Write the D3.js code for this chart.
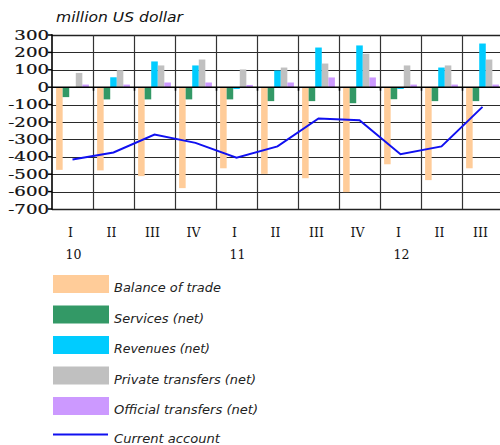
<!DOCTYPE html>
<html><head><meta charset="utf-8">
<script src="https://cdn.jsdelivr.net/npm/d3@7"></script>
<style>body{margin:0;background:#fff;}svg{display:block;}</style>
</head><body>
<svg id="chart" width="500" height="445"></svg>
<script>
const quarters = ["I","II","III","IV","I","II","III","IV","I","II","III"];
const years = ["10","","","","11","","","","12","",""];
const balanceOfTrade = [-475,-478,-511,-580,-466,-498,-523,-603,-443,-534,-466];
const services = [-57,-70,-70,-70,-70,-80,-80,-92,-69,-80,-80];
const revenues = [0,57,148,125,-10,96,228,240,-10,113,251];
const privateTransfers = [82,98,125,159,102,113,136,192,125,125,159];
const officialTransfers = [15,15,27,27,13,27,56,56,15,15,15];
const currentAccount = [-415,-375,-272,-320,-405,-340,-180,-190,-385,-340,-113];
const yTicks = [300,200,100,0,-100,-200,-300,-400,-500,-600,-700];
const seriesNames = ["Balance of trade","Services (net)","Revenues (net)","Private transfers (net)","Official transfers (net)"];
const lineName = "Current account";
const seriesColors = ["#FFCC99","#339966","#00CCFF","#C0C0C0","#CC99FF"];
const lineColor = "#1010F0";
const title = "million US dollar";

(function () {
const svg = d3.select("#chart");
const pLeft = 52, pRight = 503, pTop = 35, pBottom = 209;
const idx = d3.range(quarters.length);
const x = d3.scaleBand().domain(idx).range([pLeft, pRight]).paddingInner(0).paddingOuter(0);
const inner = d3.scaleBand().domain(d3.range(5))
  .range([x.bandwidth()*0.1, x.bandwidth()*0.9]).paddingInner(0).paddingOuter(0);
const y = d3.scaleLinear().domain([-700, 300]).range([pBottom, pTop]);
const seriesData = [balanceOfTrade, services, revenues, privateTransfers, officialTransfers];

// title
svg.append("text").attr("x", 56).attr("y", 22)
  .attr("font-family", "DejaVu Sans").attr("font-style", "italic").attr("font-size", 13.5)
  .attr("fill", "#111").attr("textLength", 127).attr("lengthAdjust", "spacingAndGlyphs")
  .text(title);

// horizontal gridlines
svg.append("g").selectAll("line").data(yTicks).join("line")
  .attr("x1", pLeft).attr("x2", pRight)
  .attr("y1", d => Math.round(y(d)) + 0.5).attr("y2", d => Math.round(y(d)) + 0.5)
  .attr("stroke", d => (d === 300 || d === -700) ? "#222" : "#2a2a2a")
  .attr("stroke-width", d => (d === 300 || d === -700) ? 1.6 : 1);

// vertical category gridlines
svg.append("g").selectAll("line").data(idx.slice(1)).join("line")
  .attr("x1", d => Math.round(x(d)) + 0.5).attr("x2", d => Math.round(x(d)) + 0.5)
  .attr("y1", pTop).attr("y2", pBottom)
  .attr("stroke", "#333").attr("stroke-width", 1.2);

// bars
seriesData.forEach((arr, s) => {
  svg.append("g").selectAll("rect").data(arr).join("rect")
    .attr("x", (d, i) => x(i) + inner(s))
    .attr("width", inner.bandwidth())
    .attr("y", d => Math.min(y(d), y(0)))
    .attr("height", d => Math.abs(y(d) - y(0)))
    .attr("fill", seriesColors[s]);
});

// zero line with ticks
svg.append("line").attr("x1", pLeft).attr("x2", pRight)
  .attr("y1", y(0)).attr("y2", y(0)).attr("stroke", "#000").attr("stroke-width", 1.5);
svg.append("g").selectAll("line").data(idx.slice(1)).join("line")
  .attr("x1", d => Math.round(x(d)) + 0.5).attr("x2", d => Math.round(x(d)) + 0.5)
  .attr("y1", y(0)).attr("y2", y(0) + 3.5).attr("stroke", "#000").attr("stroke-width", 1.5);

// left axis
svg.append("line").attr("x1", pLeft).attr("x2", pLeft).attr("y1", pTop - 0.8).attr("y2", pBottom + 0.8)
  .attr("stroke", "#000").attr("stroke-width", 1.6);
svg.append("g").selectAll("line").data(yTicks).join("line")
  .attr("x1", pLeft - 4).attr("x2", pLeft).attr("y1", d => y(d)).attr("y2", d => y(d))
  .attr("stroke", "#000").attr("stroke-width", 1.5);
svg.append("g").selectAll("g").data(yTicks).join("g")
  .attr("transform", d => `translate(49,${y(d) + 4.6}) scale(1.42,1)`)
  .append("text").attr("text-anchor", "end")
  .attr("font-family", "DejaVu Serif").attr("font-size", 12.8).attr("fill", "#111")
  .attr("stroke", "#111").attr("stroke-width", 0.2)
  .text(d => String(d));

// current account line
const line = d3.line().x((d, i) => x(i) + x.bandwidth() / 2).y(d => y(d));
svg.append("path").datum(currentAccount).attr("d", line)
  .attr("fill", "none").attr("stroke", lineColor).attr("stroke-width", 2);

// x labels
svg.append("g").selectAll("text").data(quarters).join("text")
  .attr("x", (d, i) => x(i) + x.bandwidth() / 2 - 2).attr("y", 237)
  .attr("text-anchor", "middle").attr("font-family", "DejaVu Serif").attr("font-size", 12.5)
  .attr("fill", "#111").text(d => d);
svg.append("g").selectAll("text").data(years).join("text")
  .attr("x", (d, i) => x(i) + x.bandwidth() / 2 + 1).attr("y", 259)
  .attr("text-anchor", "middle").attr("font-family", "DejaVu Serif").attr("font-size", 12.5)
  .attr("fill", "#111").text(d => d);

// legend
const legendWidths = [107, 90, 96, 142, 144];
const lg = svg.append("g");
seriesNames.forEach((name, i) => {
  const cy = 284 + i * 30.5;
  lg.append("rect").attr("x", 53).attr("y", cy - 9).attr("width", 56).attr("height", 18)
    .attr("fill", seriesColors[i]);
  lg.append("text").attr("x", 114).attr("y", cy + 8)
    .attr("font-family", "DejaVu Sans").attr("font-style", "italic").attr("font-size", 13)
    .attr("fill", "#222").attr("textLength", legendWidths[i]).attr("lengthAdjust", "spacingAndGlyphs")
    .text(name);
});
lg.append("line").attr("x1", 53).attr("x2", 108).attr("y1", 434.5).attr("y2", 434.5)
  .attr("stroke", lineColor).attr("stroke-width", 2);
lg.append("text").attr("x", 114).attr("y", 443)
  .attr("font-family", "DejaVu Sans").attr("font-style", "italic").attr("font-size", 13)
  .attr("fill", "#222").attr("textLength", 106).attr("lengthAdjust", "spacingAndGlyphs")
  .text(lineName);
})();
</script>
</body></html>
